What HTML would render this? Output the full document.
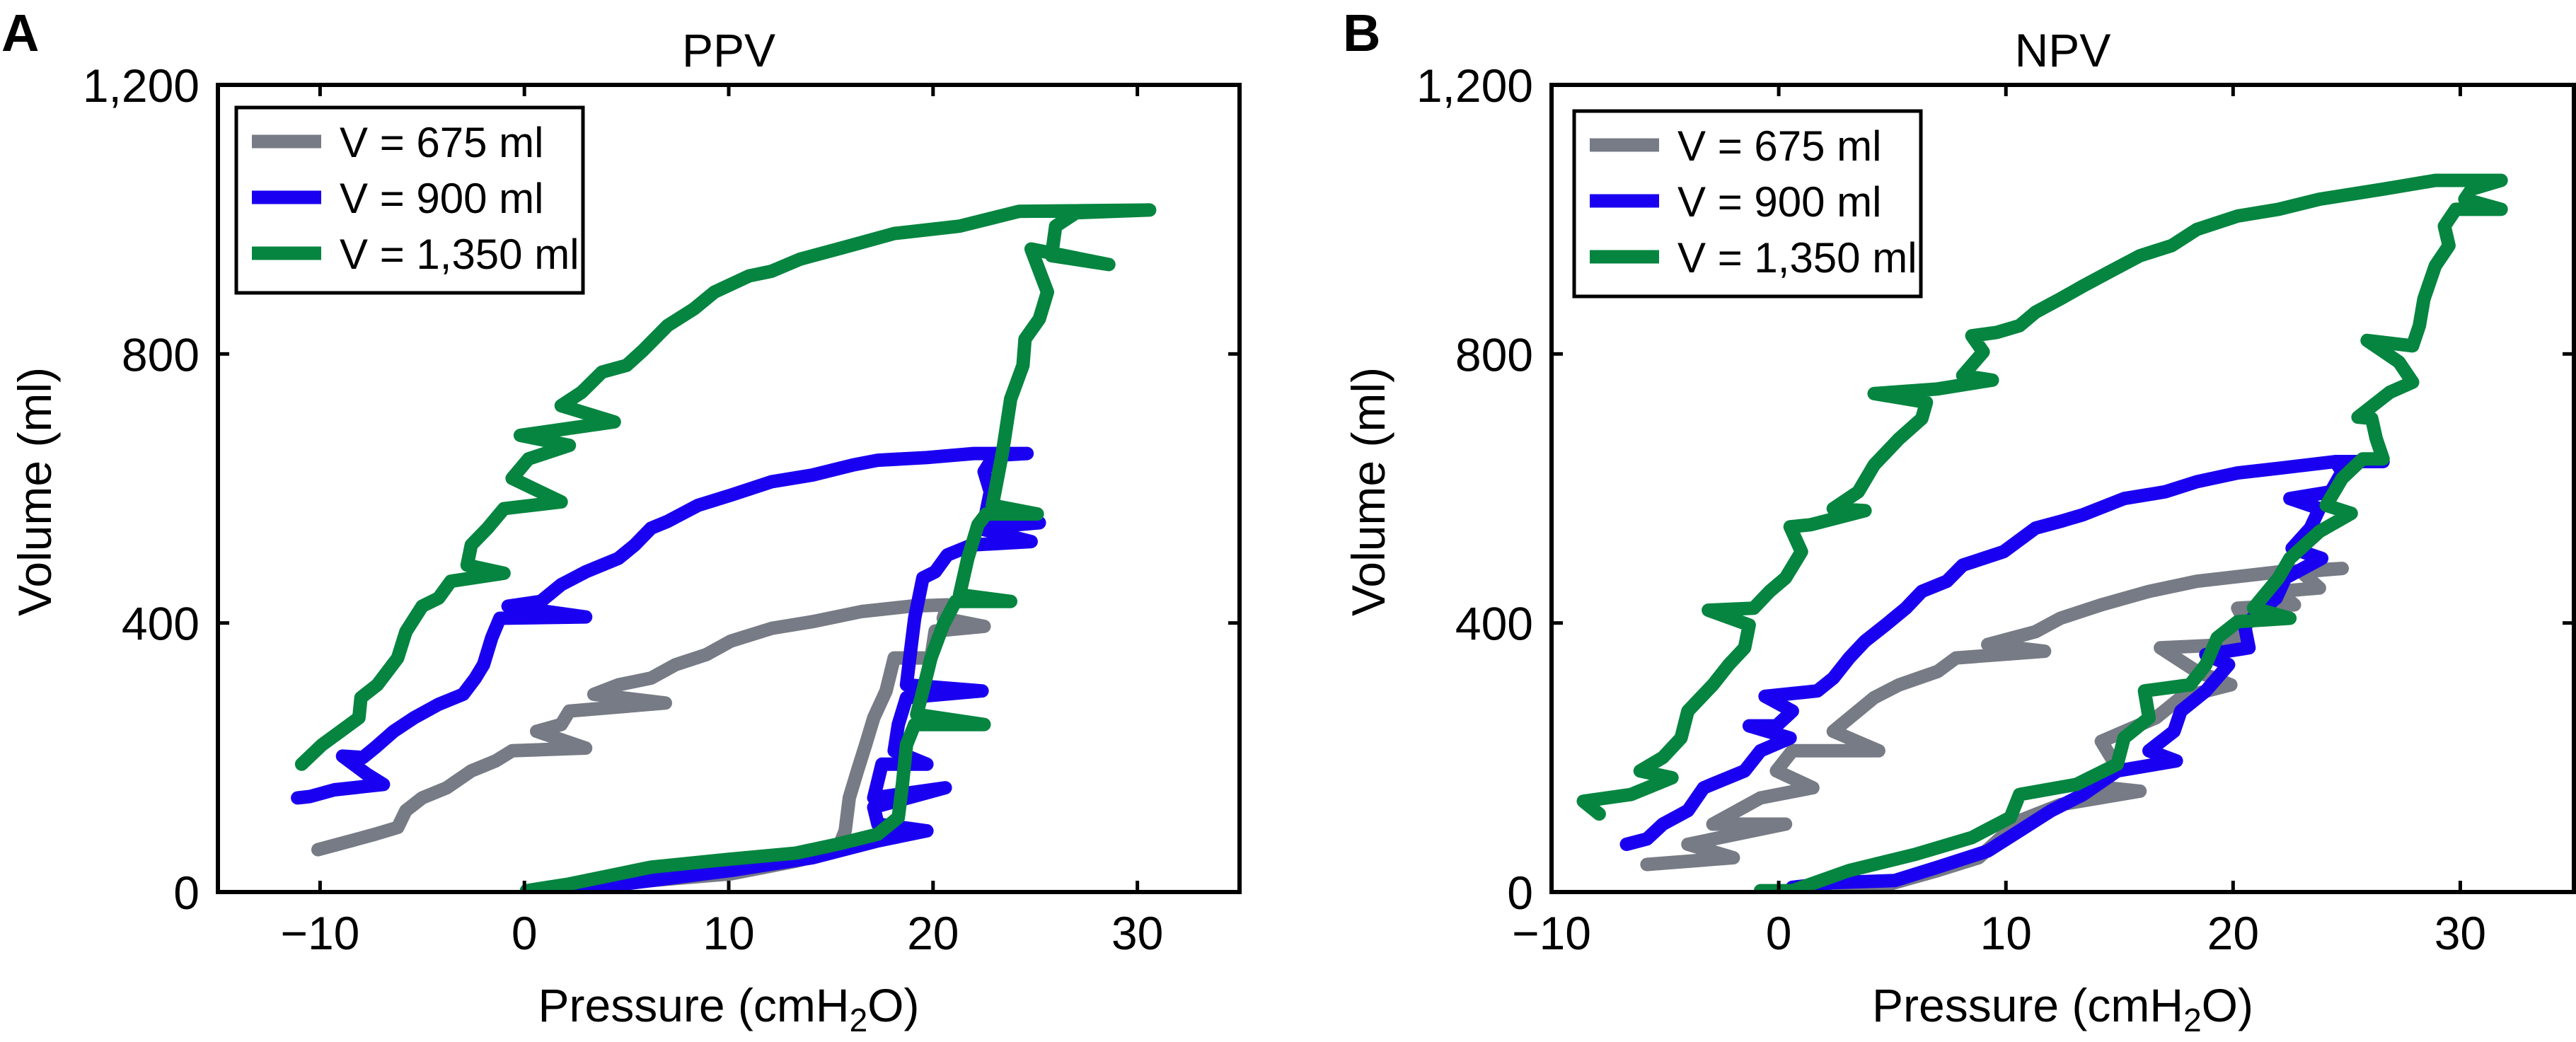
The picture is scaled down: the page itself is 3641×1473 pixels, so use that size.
<!DOCTYPE html>
<html><head><meta charset="utf-8"><style>
html,body{margin:0;padding:0;background:#fff;}
svg{display:block;font-family:"Liberation Sans",Arial,sans-serif;}
</style></head><body>
<svg id="fig" width="3641" height="1473" viewBox="0 0 3641 1473"></svg>
<script>
// ----- shared axes data -----
const yTicks = [0, 400, 800, 1200];
const yTickLabels = ["0", "400", "800", "1,200"];
const xTicks = [-10, 0, 10, 20, 30];
const xTickLabels = ["\u221210", "0", "10", "20", "30"];
const seriesNames = ["V = 675 ml", "V = 900 ml", "V = 1,350 ml"];
const seriesColors = ["#777b85", "#1a00f0", "#058540"];

// ----- Panel A (PPV) -----
const ppvGrayP = [2.2,6.2,10.1,13.3,15.3,15.7,15.9,16.3,16.7,17.1,17.7,18.1,19.9,20.1,22.5,20.5,20.7,18.9,16.5,14.1,12.1,10.1,8.9,7.4,6.2,4.6,3.4,6.9,2.2,1.8,0.6,3.0,-0.6,-1.4,-2.6,-3.8,-5.0,-5.8,-6.2,-7.3,-8.5,-10.1];
const ppvGrayV = [7,17,27,46,61,91,140,180,219,259,299,348,348,388,395,407,427,425,417,402,392,373,353,338,318,308,294,281,269,249,239,214,210,195,180,155,140,121,96,86,76,63];
const ppvBlueP = [2.2,6.2,10.1,14.1,17.3,19.7,17.3,17.1,20.6,17.1,17.5,19.7,18.1,18.3,18.7,22.4,18.7,18.9,19.1,19.5,20.1,20.7,21.9,24.8,22.2,25.2,22.6,22.8,22.5,23.0,24.6,22.0,19.7,17.3,16.1,14.1,12.1,10.1,8.5,7.0,6.2,5.4,4.6,3.0,1.8,0.8,-0.8,3.0,-1.2,-1.6,-2.0,-2.4,-3.0,-4.2,-5.4,-6.4,-7.3,-7.9,-8.9,-7.7,-6.9,-9.3,-10.5,-11.1];
const ppvBlueV = [2,17,32,51,76,91,101,126,155,140,190,190,210,249,289,299,308,358,407,467,476,501,516,521,541,549,565,595,625,649,652,652,646,642,635,620,610,590,575,551,541,516,496,476,457,432,425,409,407,378,338,318,294,279,259,239,215,200,202,175,160,152,142,140];
const ppvGreenP = [0.1,2.2,6.2,10.1,13.3,15.3,17.3,18.3,18.5,18.7,19.1,22.5,19.2,19.5,19.9,20.5,21.1,23.8,21.3,21.7,22.2,22.6,25.1,22.9,23.4,23.8,24.4,24.5,25.2,25.6,24.8,28.6,25.8,26.0,27.0,30.6,24.2,21.3,18.1,15.7,13.5,12.1,11.0,9.3,8.3,7.0,5.8,5.0,3.8,2.8,1.8,4.4,-0.2,2.2,0.2,-0.6,1.8,-1.0,-1.8,-2.6,-2.8,-1.0,-3.6,-4.2,-5.0,-5.8,-6.2,-7.2,-8.0,-8.1,-9.0,-9.9,-10.9];
const ppvGreenV = [2,12,37,49,58,71,86,111,160,219,249,249,264,299,348,397,432,432,442,496,546,562,562,575,654,733,783,822,852,892,956,933,946,990,1010,1014,1012,990,979,959,941,923,916,892,867,842,805,783,773,743,723,699,679,664,644,615,580,570,541,516,486,474,462,437,425,387,348,308,289,259,239,219,190];

// ----- Panel B (NPV) -----
const npvGrayP = [1.0,4.9,7.0,8.8,10.6,12.4,15.9,13.1,14.9,14.2,16.6,17.7,19.9,18.4,16.8,19.9,20.6,20.2,22.7,22.0,23.8,23.0,24.8,22.0,18.4,16.3,14.2,12.4,11.3,9.2,11.7,7.8,7.0,5.3,4.2,2.4,4.4,0.6,-0.1,1.5,-0.8,-2.9,0.3,-4.0,-2.0,-5.8];
const npvGrayV = [2,12,32,51,106,130,150,160,185,224,259,289,308,328,363,368,397,422,427,447,452,476,481,476,462,447,427,407,387,368,358,348,328,308,289,239,210,210,180,155,140,101,101,71,51,41];
const npvBlueP = [0.6,2.4,5.1,7.0,9.2,10.6,12.0,13.4,14.9,17.5,16.3,17.4,17.7,18.8,19.8,18.8,20.7,20.5,21.9,22.3,23.9,22.6,23.4,23.8,22.5,24.3,24.8,24.5,26.6,24.5,22.0,20.2,18.4,17.0,15.2,13.4,12.4,11.3,9.9,8.1,7.4,6.3,5.6,4.7,3.8,3.1,2.4,1.7,-0.6,0.6,-0.1,-1.3,0.5,-0.8,-1.5,-3.3,-4.0,-5.1,-5.8,-6.7];
const npvBlueV = [7,14,17,37,61,91,121,145,180,195,210,239,269,299,338,353,363,397,437,467,496,511,541,570,585,595,625,640,640,640,630,623,610,595,585,561,551,541,506,486,462,447,422,397,373,348,318,299,291,269,247,247,229,210,180,155,121,101,79,71];
const npvGreenP = [-0.8,0.6,3.1,6.0,8.5,10.2,10.6,13.1,14.9,15.2,16.3,16.1,18.1,18.8,19.3,20.2,22.5,20.9,22.0,22.5,23.8,25.2,24.1,24.8,25.7,26.6,26.3,26.1,25.5,26.9,27.9,27.3,25.9,27.9,28.2,28.4,28.9,29.5,29.3,29.8,31.8,30.2,30.5,31.8,28.9,26.6,23.8,22.0,20.2,18.4,17.3,15.9,14.5,13.4,12.4,11.3,10.6,9.6,8.5,9.0,8.1,9.4,7.0,4.2,6.5,6.3,5.3,4.2,3.5,2.4,3.8,1.4,0.5,1.0,0.3,-0.4,-1.1,-3.1,-1.3,-1.5,-2.2,-2.9,-4.0,-4.3,-5.1,-6.1,-4.7,-6.5,-8.6,-7.9];
const npvGreenV = [2,2,32,56,81,111,145,160,190,229,259,299,308,338,378,402,407,422,467,496,536,563,575,615,644,644,674,704,706,743,758,788,820,812,842,882,931,961,990,1015,1015,1030,1045,1058,1058,1045,1030,1015,1005,985,961,946,921,901,882,862,842,832,827,803,768,761,748,741,728,704,674,635,595,570,567,546,543,506,467,447,422,419,397,363,338,308,269,229,200,180,170,145,135,116];

const NS = "http://www.w3.org/2000/svg";
const svg = document.getElementById('fig');
function el(tag, attrs, parent) {
  const e = document.createElementNS(NS, tag);
  for (const k in attrs) e.setAttribute(k, attrs[k]);
  (parent || svg).appendChild(e);
  return e;
}

function panel(cfg) {
  const g = el('g', {});
  
  
  const L = cfg.left, R = cfg.right, T = 120, B = 1261;
  const sx = v => L + (v - cfg.xmin) / (cfg.xmax - cfg.xmin) * (R - L);
  const sy = v => B - v / 1200 * (B - T);

  const cp = el('clipPath', {id: 'clip-' + cfg.id}, g);
  el('rect', {x: L, y: T, width: R - L, height: B - T}, cp);

  const sg = el('g', {'clip-path': 'url(#clip-' + cfg.id + ')'}, g);
  cfg.series.forEach((s, i) => {
    let d = '';
    for (let k = 0; k < s.p.length; k++) d += (k ? 'L' : 'M') + sx(s.p[k]).toFixed(1) + ' ' + sy(s.v[k]).toFixed(1);
    const path = el('path', {d: d, fill: 'none', stroke: seriesColors[i], 'stroke-width': 19, 'stroke-linejoin': 'round', 'stroke-linecap': 'round'}, sg);
    
    
  });

  const fr = el('rect', {x: L, y: T, width: R - L, height: B - T, fill: 'none', stroke: '#000', 'stroke-width': 6}, g);
  
  

  xTicks.forEach((t, i) => {
    if (t < cfg.xmin || t > cfg.xmax) return;
    const x = sx(t);
    el('line', {x1: x, y1: B, x2: x, y2: B - 16, stroke: '#000', 'stroke-width': 5}, g);
    el('line', {x1: x, y1: T, x2: x, y2: T + 16, stroke: '#000', 'stroke-width': 5}, g);
    const tx = el('text', {x: x, y: 1342, 'font-size': 66, 'text-anchor': 'middle'}, g);
    tx.textContent = xTickLabels[i];
    
    
  });
  yTicks.forEach((t, i) => {
    const y = sy(t);
    el('line', {x1: L, y1: y, x2: L + 16, y2: y, stroke: '#000', 'stroke-width': 5}, g);
    el('line', {x1: R, y1: y, x2: R - 16, y2: y, stroke: '#000', 'stroke-width': 5}, g);
    const ty = el('text', {x: L - 26, y: y + 24, 'font-size': 66, 'text-anchor': 'end'}, g);
    ty.textContent = yTickLabels[i];
    
    
  });

  const ttl = el('text', {x: (L + R) / 2, y: 94, 'font-size': 66, 'text-anchor': 'middle'}, g);
  ttl.textContent = cfg.title;
  
  

  const lab = el('text', {x: cfg.labelX, y: 72, 'font-size': 74, 'font-weight': 'bold'}, g);
  lab.textContent = cfg.label;
  
  

  const xt = el('text', {x: (L + R) / 2, y: 1444, 'font-size': 66, 'text-anchor': 'middle'}, g);
  xt.innerHTML = 'Pressure (cmH<tspan font-size="46" dy="14">2</tspan><tspan dy="-14">O)</tspan>';
  
  

  const yt = el('text', {x: 0, y: 0, 'font-size': 66, 'text-anchor': 'middle', transform: 'translate(' + (cfg.left - 236) + ',695) rotate(-90)'}, g);
  yt.textContent = 'Volume (ml)';
  
  

  const lg = el('g', {}, g);
  
  
  el('rect', {x: cfg.legX, y: cfg.legY, width: 490, height: 262, fill: '#fff', stroke: '#000', 'stroke-width': 5}, lg);
  seriesNames.forEach((n, i) => {
    const y = cfg.legY + 48 + i * 79;
    const ln = el('line', {x1: cfg.legX + 22, y1: y, x2: cfg.legX + 120, y2: y, stroke: seriesColors[i], 'stroke-width': 19}, lg);
    
    
    const lt = el('text', {x: cfg.legX + 146, y: y + 22, 'font-size': 60}, lg);
    lt.textContent = n;
    
    
  });
}

panel({id: 'ppv', title: 'PPV', label: 'A', labelX: 2, left: 308, right: 1752, xmin: -15, xmax: 35, legX: 334, legY: 152,
  series: [{p: ppvGrayP, v: ppvGrayV}, {p: ppvBlueP, v: ppvBlueV}, {p: ppvGreenP, v: ppvGreenV}]});
panel({id: 'npv', title: 'NPV', label: 'B', labelX: 1898, left: 2193, right: 3638, xmin: -10, xmax: 35, legX: 2225, legY: 157,
  series: [{p: npvGrayP, v: npvGrayV}, {p: npvBlueP, v: npvBlueV}, {p: npvGreenP, v: npvGreenV}]});
</script>
</body></html>
